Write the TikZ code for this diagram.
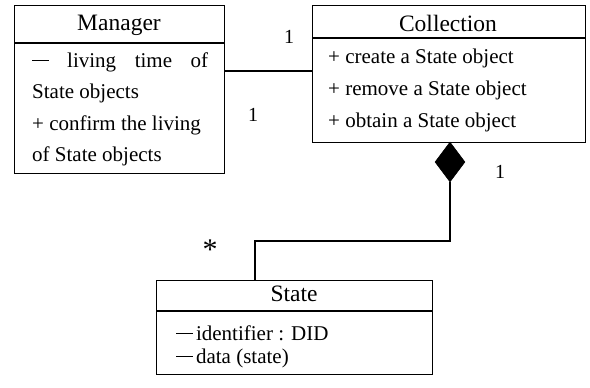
\documentclass[tikz,border=0pt]{standalone}
\usepackage{fontspec}
\setmainfont{Liberation Serif}
\usetikzlibrary{shapes.geometric}
\newcommand{\dsh}{\rule[0.3em]{0.78em}{0.05em}}
\begin{document}
\begin{tikzpicture}[x=1pt,y=-1pt,
  box/.style={draw,line width=1.4pt,inner sep=0pt,anchor=north west},
  hdr/.style={font=\fontsize{23.5}{26}\selectfont,inner sep=0pt},
  body/.style={font=\fontsize{21}{24}\selectfont,inner sep=0pt,anchor=west},
  lab/.style={font=\fontsize{20}{22}\selectfont,inner sep=0pt},
  conn/.style={line width=1.4pt}]
\useasboundingbox (0,0) rectangle (590,388);
% Manager
\node[box,minimum width=210pt,minimum height=168pt] (mgr) at (14,5) {};
\draw[conn] (14,43) -- (224,43);
\node[hdr] (mgrh) at (119,25) {Manager};
\node[body] (m1) at (32,62) {\makebox[176pt][s]{\dsh\hfill living\hfill time\hfill of}};
\node[body] (m2) at (32,93) {State objects};
\node[body] (m3) at (32,125) {+ confirm the living};
\node[body] (m4) at (32,156) {of State objects};
% Collection
\node[box,minimum width=273pt,minimum height=137pt] (col) at (312,5) {};
\draw[conn] (312,38) -- (585,38);
\node[hdr] (colh) at (448,23) {Collection};
\node[body] (c1) at (328,58) {+ create a State object};
\node[body] (c2) at (328,90) {+ remove a State object};
\node[body] (c3) at (328,122) {+ obtain a State object};
% State
\node[box,minimum width=276pt,minimum height=94pt] (st) at (156,280) {};
\draw[conn] (156,311) -- (432,311);
\node[hdr] (sth) at (294,294) {State};
\node[body] (s1) at (176,333) {\dsh\,identifier : DID};
\node[body] (s2) at (176,358) {\dsh\,data (state)};
% association
\coordinate (a1) at (224,71);
\coordinate (a2) at (312,71);
\draw[conn] (a1) -- (a2);
\node[lab] (l1) at (289,37) {1};
\node[lab] (l2) at (253,115) {1};
% composition
\node[diamond,fill=black,draw,line width=0.5pt,minimum width=30pt,minimum height=40pt,inner sep=0pt] (dia) at (450,162) {};
\coordinate (c1b) at (450,241);
\coordinate (c2b) at (255,241);
\coordinate (c3b) at (255,280);
\draw[conn] (dia.south) -- (c1b) -- (c2b) -- (c3b);
\node[lab] (l3) at (500,172) {1};
\node[inner sep=0pt,anchor=north,font=\fontsize{30}{30}\selectfont] (l4) at (210,240) {*};
\end{tikzpicture}
\end{document}
